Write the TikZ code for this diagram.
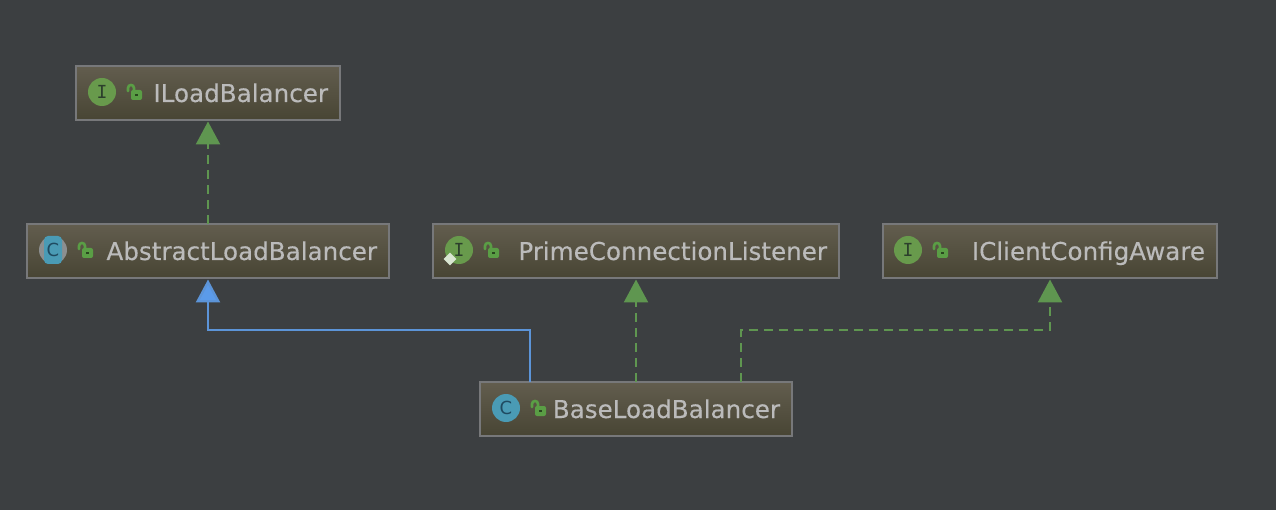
\documentclass[tikz,border=0pt]{standalone}
\usepackage{fontspec}
\setmainfont[FakeBold=0.25]{DejaVu Sans}
\newfontfamily\glyphmono{DejaVu Sans Mono}
\newfontfamily\glyphsans{DejaVu Sans}
\usetikzlibrary{arrows.meta,calc,shapes.geometric}
\definecolor{bgc}{HTML}{3C3F41}
\definecolor{boxtop}{HTML}{625D4E}
\definecolor{boxbot}{HTML}{484534}
\definecolor{boxline}{HTML}{77787A}
\definecolor{txtc}{HTML}{BBBBBB}
\definecolor{igreen}{HTML}{689A4C}
\definecolor{lockg}{HTML}{5A9E45}
\definecolor{cblue}{HTML}{4A9BB5}
\definecolor{cdark}{HTML}{1F4A60}
\definecolor{idark}{HTML}{2C3F2C}
\definecolor{agray}{HTML}{8C8F90}
\definecolor{arrowg}{HTML}{5F9650}
\definecolor{arrowb}{HTML}{5B9BEA}
\definecolor{lineb}{HTML}{5C94D8}
\tikzset{
  x=1pt,y=-1pt,
  classbox/.style={draw=boxline,line width=2pt,top color=boxtop,bottom color=boxbot,
    outer sep=0pt,inner xsep=12pt,inner ysep=0pt,minimum height=54pt,align=right,
    text=txtc,font=\fontsize{24.6}{28}\selectfont,text height=18pt,text depth=0pt},
  iconbase/.style={circle,minimum size=28pt,inner sep=0pt,outer sep=0pt},
  iface/.style={iconbase,fill=igreen,text=idark,font=\glyphmono\fontsize{18}{18}\selectfont},
  cls/.style={iconbase,fill=cblue,text=cdark,font=\glyphsans\fontsize{18}{18}\selectfont},
  impl/.style={draw=arrowg,line width=2.4pt,dash pattern=on 9pt off 6pt,shorten >=1.5pt,
    -{Triangle[length=23pt,width=24pt,fill=arrowg]}},
  extend/.style={draw=lineb,line width=2.4pt,shorten >=1.5pt,
    -{Triangle[length=23pt,width=24pt,fill=arrowb]}},
  lockicon/.pic={
    \draw[lockg,line width=2.6pt,line cap=round] (-1,-1) -- (-1,-4) .. controls (-1,-8) and (5,-8) .. (5,-4) -- (5,0);
    \fill[lockg,rounded corners=2pt] (2,-2) rectangle (13,8);
    \fill[black!55!lockg] (6,2.4) rectangle (9,4);
  }
}
\begin{document}
\begin{tikzpicture}
\useasboundingbox[fill=bgc] (0,0) rectangle (1276,510);
\node[classbox,text width=240pt] (ilb) at (208,93) {ILoadBalancer};
\node[classbox,text width=338pt] (abs) at (208,251) {AbstractLoadBalancer};
\node[classbox,text width=382pt] (pcl) at (636,251) {PrimeConnectionListener};
\node[classbox,text width=310pt] (icc) at (1050,251) {IClientConfigAware};
\node[classbox,text width=288pt] (base) at (636,409) {BaseLoadBalancer};
% icons
\node[iface] (ilbicon) at (102,92) {I};
\pic at (129,92) {lockicon};
\node[iconbase,fill=agray] (absring) at (53,250) {};
\fill[cblue,rounded corners=4pt] (44,236) rectangle (62,264);
\node[text=cdark,inner sep=0pt,font=\glyphsans\fontsize{18}{18}\selectfont] (absicon) at (53,250) {C};
\pic at (80,250) {lockicon};
\node[iface] (pclicon) at (459,250) {I};
\node[diamond,aspect=1,fill=white!75!igreen,minimum size=13pt,inner sep=0pt] (pcldia) at (450,259) {};
\pic at (486,250) {lockicon};
\node[iface] (iccicon) at (908,250) {I};
\pic at (935,250) {lockicon};
\node[cls] (baseicon) at (506,408) {C};
\pic at (533,408) {lockicon};
% connectors
\coordinate (bl) at ($(base.north)+(-106,0)$);
\coordinate (br) at ($(base.north)+(105,0)$);
\draw[impl] (abs.north) -- (ilb.south);
\draw[impl] (base.north) -- (pcl.south);
\draw[extend] (bl) -- (bl |- 0,330) -- (abs.south |- 0,330) -- (abs.south);
\draw[impl] (br) -- (br |- 0,330) -- (icc.south |- 0,330) -- (icc.south);
\end{tikzpicture}
\end{document}
